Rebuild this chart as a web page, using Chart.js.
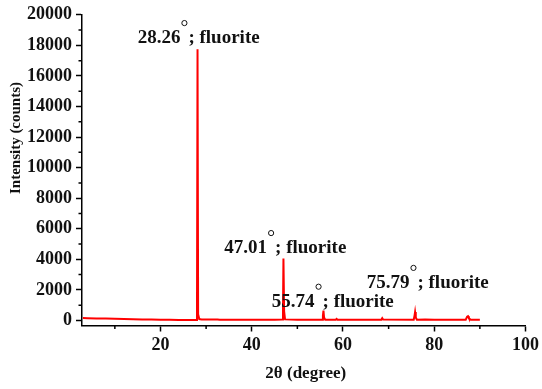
<!DOCTYPE html>
<html>
<head>
<meta charset="utf-8">
<script src="https://cdn.jsdelivr.net/npm/chart.js@4.4.1/dist/chart.umd.min.js"></script>
<style>
  html, body { margin: 0; padding: 0; background: #fff; }
  #wrap { width: 542px; height: 389px; position: relative; }
</style>
</head>
<body>
<div id="wrap"><canvas id="xrdChart"></canvas></div>
<script>
const twoTheta = [
    3, 4, 6, 8, 10, 12, 14, 16, 18, 20, 22, 24, 26, 27.8,
    28.0, 28.12, 28.25, 28.5, 29, 31, 32.5, 33, 35, 40, 45,
    46.7, 46.85, 46.95, 47.1, 47.3, 50, 55.4,
    55.6, 55.72, 55.85, 56.1, 58.4, 58.6, 58.8, 65,
    68.4, 68.6, 68.8, 75.5, 75.7, 75.8, 75.95, 76.2, 78, 80,
    86.9, 87.2, 87.4, 87.6, 88, 90
];
const intensity = [
    160, 150, 135, 120, 105, 90, 75, 65, 55, 45, 40, 35, 30, 30,
    400, 17750, 400, 90, 60, 55, 70, 50, 50, 45, 45,
    60, 800, 4050, 600, 70, 45, 50,
    300, 650, 200, 50, 50, 100, 50, 40,
    50, 150, 60, 50, 350, 550, 200, 50, 60, 45,
    50, 250, 280, 150, 50, 50
];

const xTickValues = [20, 40, 60, 80, 100];
const xMinorValues = [10, 30, 50, 70, 90];
const yTickValues = [0, 2000, 4000, 6000, 8000, 10000, 12000, 14000, 16000, 18000, 20000];
const yMinorValues = [1000, 3000, 5000, 7000, 9000, 11000, 13000, 15000, 17000, 19000];

const peakLabels = ['28.26', '47.01', '55.74', '75.79'];
const peakPhase = '; fluorite';
// where each label starts (left of number, text baseline), in data units
const labelAnchorX = [15.0, 34.0, 44.4, 65.2];
const labelAnchorY = [18150, 4410, 900, 2130];

const SERIF = '"Liberation Serif", "Times New Roman", serif';

// ---- plugins ----
const minorTicks = {
    id: 'minorTicks',
    afterDraw(chart) {
        const { ctx, chartArea } = chart;
        const xs = chart.scales.x, ys = chart.scales.y;
        ctx.save();
        ctx.strokeStyle = '#000';
        ctx.lineWidth = 1.5;
        ctx.beginPath();
        xMinorValues.forEach(v => {
            const px = xs.getPixelForValue(v);
            ctx.moveTo(px, chartArea.bottom);
            ctx.lineTo(px, chartArea.bottom + 3.5);
        });
        yMinorValues.forEach(v => {
            const py = ys.getPixelForValue(v);
            ctx.moveTo(chartArea.left, py);
            ctx.lineTo(chartArea.left - 3.5, py);
        });
        ctx.stroke();
        ctx.restore();
    }
};

const peakAnnotations = {
    id: 'peakAnnotations',
    afterDatasetsDraw(chart) {
        const { ctx } = chart;
        const xs = chart.scales.x, ys = chart.scales.y;
        ctx.save();
        ctx.font = 'bold 19px ' + SERIF;
        ctx.fillStyle = '#111';
        ctx.strokeStyle = '#111';
        ctx.lineWidth = 1;
        ctx.textBaseline = 'alphabetic';
        ctx.textAlign = 'left';
        peakLabels.forEach((num, i) => {
            const px = xs.getPixelForValue(labelAnchorX[i]);
            const py = ys.getPixelForValue(labelAnchorY[i]);
            ctx.fillText(num, px, py);
            const w = ctx.measureText(num).width;
            // degree ring
            ctx.beginPath();
            ctx.arc(px + w + 4, py - 20, 2.6, 0, Math.PI * 2);
            ctx.stroke();
            ctx.fillText(peakPhase, px + w + 8, py);
        });
        ctx.restore();
    }
};

const axisTitles = {
    id: 'axisTitles',
    afterDraw(chart) {
        const { ctx, chartArea } = chart;
        ctx.save();
        ctx.fillStyle = '#111';
        ctx.textAlign = 'center';
        ctx.textBaseline = 'middle';
        ctx.font = 'bold 17px ' + SERIF;
        ctx.fillText('2\u03b8 (degree)', (chartArea.left + chartArea.right) / 2 + 2, 374);
        ctx.font = 'bold 15px ' + SERIF;
        ctx.translate(16, 138);
        ctx.rotate(-Math.PI / 2);
        ctx.fillText('Intensity (counts)', 0, 0);
        ctx.restore();
    }
};

// ---- chart ----
const points = twoTheta.map((x, i) => ({ x: x, y: intensity[i] }));

new Chart(document.getElementById('xrdChart'), {
    type: 'line',
    data: {
        datasets: [{
            data: points,
            borderColor: '#ff0000',
            borderWidth: 2,
            pointRadius: 0,
            tension: 0,
            fill: false
        }]
    },
    options: {
        responsive: true,
        maintainAspectRatio: false,
        animation: false,
        layout: { padding: { top: 13, right: 14, left: 0, bottom: 0 } },
        plugins: {
            legend: { display: false },
            tooltip: { enabled: false }
        },
        scales: {
            x: {
                type: 'linear',
                min: 2.8,
                max: 100,
                afterBuildTicks: s => { s.ticks = xTickValues.map(v => ({ value: v })); },
                afterFit: s => { s.height = 63.5; },
                grid: {
                    drawOnChartArea: false,
                    drawTicks: true,
                    tickLength: 6,
                    tickColor: '#000',
                    tickWidth: 1.5
                },
                border: { display: true, color: '#000', width: 1.5 },
                ticks: {
                    color: '#111',
                    padding: 3,
                    maxRotation: 0,
                    font: { family: SERIF, size: 18, weight: 'bold' }
                }
            },
            y: {
                type: 'linear',
                min: -330,
                max: 20000,
                afterBuildTicks: s => { s.ticks = yTickValues.map(v => ({ value: v })); },
                afterFit: s => { s.width = 82; },
                grid: {
                    drawOnChartArea: false,
                    drawTicks: true,
                    tickLength: 6,
                    tickColor: '#000',
                    tickWidth: 1.5
                },
                border: { display: true, color: '#000', width: 1.5 },
                ticks: {
                    color: '#111',
                    padding: 4,
                    font: { family: SERIF, size: 18, weight: 'bold' },
                    callback: v => String(v)
                }
            }
        }
    },
    plugins: [minorTicks, peakAnnotations, axisTitles]
});
</script>
</body>
</html>
